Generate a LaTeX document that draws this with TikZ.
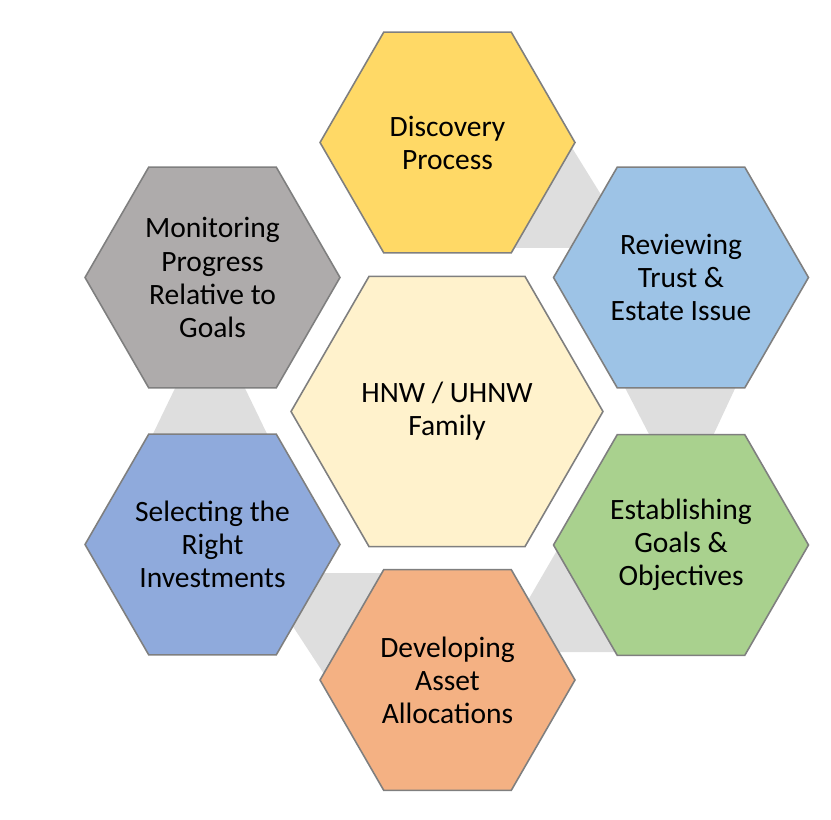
\documentclass[tikz,border=0pt]{standalone}
\usepackage{fontspec}
\setmainfont{Carlito}
\usetikzlibrary{shapes.geometric}

\definecolor{hexline}{HTML}{7F7F7F}
\definecolor{linkgray}{HTML}{DEDEDE}
\definecolor{discyellow}{HTML}{FFD966}
\definecolor{revblue}{HTML}{9DC3E6}
\definecolor{estgreen}{HTML}{A9D18E}
\definecolor{devorange}{HTML}{F4B183}
\definecolor{selblue}{HTML}{8FAADC}
\definecolor{mongray}{HTML}{AEABAB}
\definecolor{famcream}{HTML}{FFF2CC}

\tikzset{
    hexa/.style = {regular polygon,
        regular polygon sides = 6,
        draw = hexline,
        line width = 0.9pt,
        minimum size = 5.1cm,
        inner sep = 0pt,
        align = center,
        font = \fontsize{16.8}{18.8}\selectfont},
    link/.style = {fill = linkgray}
}

\begin{document}
\begin{tikzpicture}[x=0.02cm,y=-0.02cm]
\useasboundingbox (0,0) rectangle (831,820);

% grey links behind the ring
\fill[link] (500,130) -- (561,130) -- (634,248) -- (500,248) -- cycle;
\fill[link] (621,380) -- (739,380) -- (711,440) -- (652,440) -- cycle;
\fill[link] (563,540) -- (640,540) -- (640,652) -- (498,652) -- cycle;
\fill[link] (258,573) -- (390,573) -- (390,700) -- (341,700) -- cycle;
\fill[link] (179,380) -- (241,380) -- (270,440) -- (150,440) -- cycle;

\node[hexa, fill = discyellow] (disc) at (447.5,142.5) {Discovery\\Process};
\node[hexa, fill = revblue] (rev) at (681,277.5) {Reviewing\\Trust \&\\Estate Issue};
\node[hexa, fill = estgreen] (est) at (681,545) {Establishing\\Goals \&\\Objectives};
\node[hexa, fill = devorange] (dev) at (447.5,680) {Developing\\Asset\\Allocations};
\node[hexa, fill = selblue] (sel) at (212.5,544.5) {Selecting the\\Right\\Investments};
\node[hexa, fill = mongray] (mon) at (212.5,277.5) {Monitoring\\Progress\\Relative to\\Goals};

\node[hexa,
    fill = famcream,
    minimum size = 6.24cm]
    (fam) at (447,411.5) {HNW / UHNW\\Family};

\end{tikzpicture}
\end{document}
